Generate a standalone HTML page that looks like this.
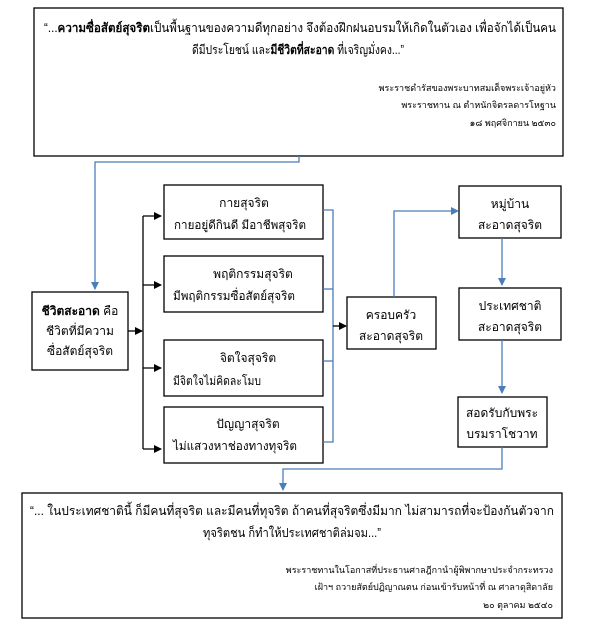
<!DOCTYPE html>
<html><head><meta charset="utf-8"><style>
html,body{margin:0;padding:0;background:#fff;}
svg{display:block;font-family:"Liberation Sans","DejaVu Sans",sans-serif;}
text{fill:#000;}
</style></head><body>
<svg width="602" height="629" viewBox="0 0 602 629" xmlns="http://www.w3.org/2000/svg">
<defs>
<marker id="ab" markerWidth="8" markerHeight="8" refX="7" refY="4" orient="auto" markerUnits="userSpaceOnUse"><path d="M0,0 L8,4 L0,8 z" fill="#000"/></marker>
<marker id="au" markerWidth="8" markerHeight="8" refX="7" refY="4" orient="auto" markerUnits="userSpaceOnUse"><path d="M0,0 L8,4 L0,8 z" fill="#4a7ebb"/></marker>
</defs>
<g fill="none" stroke="#000" stroke-width="1.3">
<rect x="34" y="8" width="529" height="148"/>
<rect x="32" y="292" width="96" height="78"/>
<rect x="164" y="185" width="159" height="54"/>
<rect x="164" y="256" width="159" height="56"/>
<rect x="164" y="340" width="159" height="56"/>
<rect x="164" y="407" width="159" height="56"/>
<rect x="347" y="297" width="89" height="52"/>
<rect x="459" y="186" width="102" height="52"/>
<rect x="459" y="288" width="102" height="52"/>
<rect x="458" y="397" width="89" height="50"/>
<rect x="22" y="493" width="540" height="125"/>
</g>
<g fill="none" stroke="#4a7ebb" stroke-width="1.3">
<polyline points="299,156 299,162 95,162 95,289" marker-end="url(#au)"/>
<polyline points="323,210 333,210 333,442 323,442"/>
<line x1="323" y1="289" x2="333" y2="289"/>
<line x1="323" y1="361" x2="333" y2="361"/>
<polyline points="394,297 394,211 458,211" marker-end="url(#au)"/>
<line x1="502" y1="238" x2="502" y2="285" marker-end="url(#au)"/>
<line x1="502" y1="340" x2="502" y2="393" marker-end="url(#au)"/>
<polyline points="502,447 502,469 283,469 283,490" marker-end="url(#au)"/>
</g>
<g fill="none" stroke="#000" stroke-width="1.3">
<line x1="128" y1="331" x2="142" y2="331" marker-end="url(#ab)"/>
<line x1="143" y1="216" x2="143" y2="449"/>
<line x1="143" y1="216" x2="161" y2="216" marker-end="url(#ab)"/>
<line x1="143" y1="285" x2="161" y2="285" marker-end="url(#ab)"/>
<line x1="143" y1="368" x2="161" y2="368" marker-end="url(#ab)"/>
<line x1="143" y1="449" x2="161" y2="449" marker-end="url(#ab)"/>
<line x1="333" y1="326" x2="346" y2="326" marker-end="url(#ab)"/>
</g>
<g font-size="12.5" text-anchor="middle">
<text x="300" y="32" textLength="512" lengthAdjust="spacingAndGlyphs">“...<tspan font-weight="bold">ความซื่อสัตย์สุจริต</tspan>เป็นพื้นฐานของความดีทุกอย่าง  จึงต้องฝึกฝนอบรมให้เกิดในตัวเอง เพื่อจักได้เป็นคน</text>
<text x="298" y="54" textLength="212" lengthAdjust="spacingAndGlyphs">ดีมีประโยชน์ และ<tspan font-weight="bold">มีชีวิตที่สะอาด</tspan> ที่เจริญมั่งคง...”</text>
<text x="292" y="515" textLength="524" lengthAdjust="spacingAndGlyphs">“... ในประเทศชาตินี้ ก็มีคนที่สุจริต และมีคนที่ทุจริต  ถ้าคนที่สุจริตซึ่งมีมาก ไม่สามารถที่จะป้องกันตัวจาก</text>
<text x="292" y="537" textLength="178" lengthAdjust="spacingAndGlyphs">ทุจริตชน ก็ทำให้ประเทศชาติล่มจม...”</text>
</g>
<g font-size="12" text-anchor="middle">
<text x="80" y="315"><tspan font-weight="bold">ชีวิตสะอาด</tspan> คือ</text>
<text x="80" y="335">ชีวิตที่มีความ</text>
<text x="80" y="355">ซื่อสัตย์สุจริต</text>
<text x="244" y="207">กายสุจริต</text>
<text x="240" y="229" textLength="132" lengthAdjust="spacingAndGlyphs">กายอยู่ดีกินดี มีอาชีพสุจริต</text>
<text x="253" y="278">พฤติกรรมสุจริต</text>
<text x="234" y="300" textLength="122" lengthAdjust="spacingAndGlyphs">มีพฤติกรรมซื่อสัตย์สุจริต</text>
<text x="248" y="362">จิตใจสุจริต</text>
<text x="217" y="385" textLength="88" lengthAdjust="spacingAndGlyphs">มีจิตใจไม่คิดละโมบ</text>
<text x="248" y="428">ปัญญาสุจริต</text>
<text x="235" y="450" textLength="124" lengthAdjust="spacingAndGlyphs">ไม่แสวงหาช่องทางทุจริต</text>
<text x="391" y="319">ครอบครัว</text>
<text x="391" y="340">สะอาดสุจริต</text>
<text x="510" y="208">หมู่บ้าน</text>
<text x="510" y="229">สะอาดสุจริต</text>
<text x="510" y="310">ประเทศชาติ</text>
<text x="510" y="331">สะอาดสุจริต</text>
<text x="502" y="417">สอดรับกับพระ</text>
<text x="502" y="438">บรมราโชวาท</text>
</g>
<g font-size="9" text-anchor="end">
<text x="556" y="91">พระราชดำรัสของพระบาทสมเด็จพระเจ้าอยู่หัว</text>
<text x="556" y="108">พระราชทาน ณ ตำหนักจิตรลดารโหฐาน</text>
<text x="556" y="126">๑๘ พฤศจิกายน ๒๕๓๐</text>
<text x="553" y="573">พระราชทานในโอกาสที่ประธานศาลฎีกานำผู้พิพากษาประจำกระทรวง</text>
<text x="553" y="590">เฝ้าฯ ถวายสัตย์ปฏิญาณตน ก่อนเข้ารับหน้าที่ ณ ศาลาดุสิดาลัย</text>
<text x="553" y="608">๒๐ ตุลาคม ๒๕๔๐</text>
</g>
</svg>
</body></html>
